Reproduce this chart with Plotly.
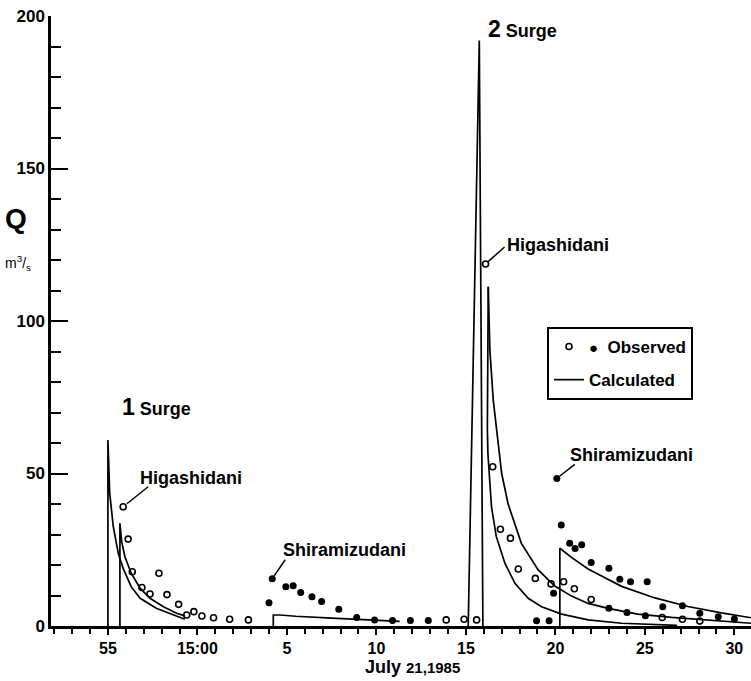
import plotly.graph_objects as go

# ---- data (time in minutes after 14:00, July 21 1985; Q in m3/s) ----
# Surge 1 calculated (Higashidani, two hydrographs)
s1_calc_a_t = [55.0, 55.0, 55.1, 55.3, 55.58, 55.85, 56.3, 56.8, 57.7, 58.65, 59.3]
s1_calc_a_q = [0, 61, 43.5, 32.6, 23.8, 18.9, 12.9, 9.1, 5.8, 3.6, 2.2]
s1_calc_b_t = [55.67, 55.67, 55.77, 55.95, 56.3, 56.8, 57.35, 58.1, 58.84, 59.3]
s1_calc_b_q = [0, 33.7, 27.6, 22.7, 17.3, 12.4, 9.1, 6.3, 4.2, 3.3]
# Surge 1 calculated (Shiramizudani)
s1_calc_s_t = [64.24, 64.24, 64.6, 65.5, 67.5, 69.5, 71.3]
s1_calc_s_q = [0, 3.6, 3.6, 3.2, 2.6, 2.0, 1.5]
# Surge 2 calculated
s2_spike_t = [75.13, 75.75, 75.95]
s2_spike_q = [0, 192, 0]
s2_calc_a_t = [76.25, 76.22, 76.2, 76.23, 76.3, 76.43, 76.7, 77.18, 77.74, 78.48, 79.23, 80.35, 81.83, 83.7, 86.8]
s2_calc_a_q = [111.2, 85, 65, 56.6, 50, 39.1, 29.3, 20.6, 14.0, 9.1, 6.3, 3.9, 2.0, 0.9, 0.2]
s2_calc_b_t = [76.25, 76.34, 76.53, 76.8, 77.0, 77.36, 78.1, 79.04, 79.97, 80.9, 81.83, 82.95, 84.6, 86.5, 88.35, 90.93]
s2_calc_b_q = [111.2, 90.5, 74, 59, 50, 40, 27.1, 18.4, 13.1, 9.8, 7.4, 5.8, 3.9, 2.8, 2.0, 0.9]
s2_calc_s_t = [80.25, 80.25, 80.9, 81.83, 82.77, 83.7, 85.56, 87.4, 89.28, 90.93]
s2_calc_s_q = [0, 25.5, 22.5, 18.7, 15.8, 13.0, 9.2, 6.4, 4.3, 2.7]

# Observed, Higashidani (open circles)
obs_h_t = [55.85, 56.13, 56.36, 56.9, 57.35, 57.85, 58.3, 58.95, 59.4, 59.8, 60.25, 60.9, 61.8, 62.85,
           73.9, 74.9, 75.6, 76.1, 76.5, 76.93, 77.49, 77.93, 78.88, 79.76, 80.46, 81.06, 82.0,
           85.97, 87.1, 88.07]
obs_h_q = [39.1, 28.5, 17.8, 12.6, 10.5, 17.3, 10.3, 7.1, 3.6, 4.7, 3.3, 2.7, 2.2, 2.0,
           2.0, 2.2, 2.0, 118.7, 52.2, 31.7, 28.8, 18.7, 15.6, 13.8, 14.5, 12.2, 8.7,
           2.8, 2.2, 1.6]
# Observed, Shiramizudani (filled circles)
obs_s_t = [64.0, 64.18, 64.94, 65.35, 65.77, 66.4, 66.94, 67.9, 68.9, 69.9, 70.9, 71.9, 72.9,
           78.95, 79.65, 79.9, 80.08, 80.33, 80.8, 81.1, 81.47, 82.0, 82.99, 83.6, 84.2, 85.13,
           82.99, 84.0, 85.03, 86.0, 87.1, 88.07, 89.1, 90.0]
obs_s_q = [7.6, 15.5, 12.9, 13.2, 11.0, 9.6, 8.0, 5.5, 2.8, 2.0, 1.8, 1.8, 1.8,
           1.7, 1.7, 10.7, 48.4, 33.1, 27.1, 25.4, 26.6, 20.8, 18.9, 15.3, 14.5, 14.5,
           5.8, 4.4, 3.4, 6.3, 6.6, 4.2, 3.0, 2.3]

x_tickvals = [55, 60, 65, 70, 75, 80, 85, 90]
x_ticktext = ["55", "15:00", "5", "10", "15", "20", "25", "30"]
y_tickvals = [0, 50, 100, 150, 200]

FONT = "Liberation Sans, Arial, Helvetica, sans-serif"
LW = 1.7

fig = go.Figure()

# legend carriers first
fig.add_trace(go.Scatter(x=obs_h_t, y=obs_h_q, mode="markers",
                         name="<b><span style='font-size:15px'>●</span>  Observed</b>",
                         legendgroup="a",
                         marker=dict(symbol="circle-open", size=6, color="black", line=dict(width=1.6))))
fig.add_trace(go.Scatter(x=s1_calc_a_t, y=s1_calc_a_q, mode="lines", name="<b>Calculated</b>",
                         legendgroup="b",
                         line=dict(color="black", width=LW)))
for t, q in [(s1_calc_b_t, s1_calc_b_q), (s1_calc_s_t, s1_calc_s_q), (s2_spike_t, s2_spike_q),
             (s2_calc_a_t, s2_calc_a_q), (s2_calc_b_t, s2_calc_b_q), (s2_calc_s_t, s2_calc_s_q)]:
    fig.add_trace(go.Scatter(x=t, y=q, mode="lines", showlegend=False,
                             line=dict(color="black", width=LW)))
fig.add_trace(go.Scatter(x=obs_s_t, y=obs_s_q, mode="markers", showlegend=False,
                         marker=dict(symbol="circle", size=7, color="black")))

# ---- annotations ----
ann = []
shapes = []
def label(x, y, text, size=18, xanchor="left"):
    ann.append(dict(x=x, y=y, xref="x", yref="y", text=text, showarrow=False,
                    xanchor=xanchor, yanchor="middle", font=dict(size=size, color="black", family=FONT)))
def pointer(x, y, dx, dy):
    # leader line from an observed point towards its label (pixel offsets, y up)
    shapes.append(dict(type="line", xref="x", yref="y", xsizemode="pixel", ysizemode="pixel",
                       xanchor=x, yanchor=y, x0=dx * 0.15, y0=dy * 0.15, x1=dx, y1=dy,
                       line=dict(color="black", width=1.5)))

label(55.67, 71.8, "<b><span style='font-size:23px'>1</span> Surge</b>")
label(76.12, 195.7, "<b><span style='font-size:23px'>2</span> Surge</b>")
label(56.68, 48.5, "<b>Higashidani</b>")
pointer(55.85, 39.1, 25, 20)
label(77.18, 124.9, "<b>Higashidani</b>")
pointer(76.1, 118.7, 19, 17)
label(64.67, 24.9, "<b>Shiramizudani</b>")
pointer(64.18, 15.5, 13, 19)
label(80.72, 56.1, "<b>Shiramizudani</b>")
pointer(80.08, 48.4, 18, 14)

# axis titles
ann.append(dict(x=(16 - 51) / 700, y=(626 - 218) / 610, xref="paper", yref="paper",
                text="<b>Q</b>", showarrow=False, xanchor="center", yanchor="middle",
                font=dict(size=28, color="black", family=FONT)))
ann.append(dict(x=(18 - 51) / 700, y=(626 - 263) / 610, xref="paper", yref="paper",
                text="m<sup>3</sup>/<sub>s</sub>", showarrow=False, xanchor="center", yanchor="middle",
                font=dict(size=14, color="black", family=FONT)))
ann.append(dict(x=(412 - 51) / 700, y=(626 - 667) / 610, xref="paper", yref="paper",
                text="<b>July <span style='font-size:15px'>21,1985</span></b>", showarrow=False,
                xanchor="center", yanchor="middle", font=dict(size=18, color="black", family=FONT)))

fig.update_layout(
    width=751, height=681,
    margin=dict(l=51, r=0, t=16, b=55),
    paper_bgcolor="white", plot_bgcolor="white",
    font=dict(family=FONT, color="black"),
    annotations=ann,
    shapes=shapes,
    legend=dict(x=(547 - 51) / 700, y=(626 - 327) / 610, xanchor="left", yanchor="top",
                bordercolor="black", borderwidth=2, bgcolor="white",
                font=dict(size=17, color="black", family=FONT),
                traceorder="grouped", tracegroupgap=8),
    xaxis=dict(range=[51.82, 90.93], showgrid=False, zeroline=False,
               showline=True, linecolor="black", linewidth=2.5,
               tickmode="array", tickvals=x_tickvals, ticktext=[f"<b>{t}</b>" for t in x_ticktext],
               ticks="outside", ticklen=6, tickwidth=2, tickcolor="black",
               tickfont=dict(size=16, color="black", family=FONT),
               minor=dict(dtick=1, tick0=0, ticks="outside", ticklen=5, tickwidth=1.6, tickcolor="black")),
    yaxis=dict(range=[0, 200], showgrid=False, zeroline=False,
               showline=True, linecolor="black", linewidth=2.5,
               tickmode="array", tickvals=y_tickvals, ticktext=[f"<b>{v}</b>" for v in y_tickvals],
               ticks="inside", ticklen=17, tickwidth=2, tickcolor="black",
               tickfont=dict(size=17, color="black", family=FONT),
               minor=dict(dtick=10, tick0=0, ticks="inside", ticklen=10, tickwidth=2, tickcolor="black")),
)

fig.write_html("out.html")
